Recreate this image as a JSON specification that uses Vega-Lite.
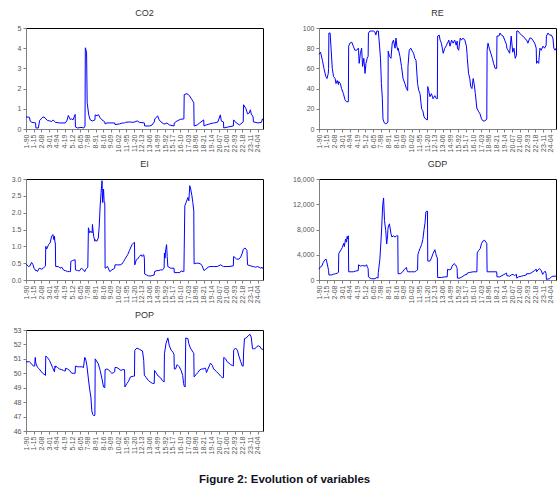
{
  "$schema": "https://vega.github.io/schema/vega-lite/v6.json",
  "padding": {"left": 10, "top": 8, "right": 5, "bottom": 8},
  "background": "white",
  "title": {"text": "Figure 2: Evolution of variables", "orient": "bottom", "anchor": "middle", "fontSize": 11.5, "fontWeight": "bold", "font": "Liberation Sans", "color": "#111122", "offset": 20},
  "config": {
    "view": {"stroke": "black", "strokeWidth": 1},
    "axis": {"labelFont": "Liberation Sans", "labelFontSize": 7, "labelColor": "#555555", "domainColor": "#808080", "tickColor": "#808080", "tickSize": 3, "grid": false, "title": null, "labelPadding": 2},
    "title": {"font": "Liberation Sans", "fontSize": 9, "fontWeight": "normal", "color": "#333333", "offset": 6},
    "line": {"color": "#0000ff", "strokeWidth": 1}
  },
  "datasets": {
    "co2": [{"t":0,"v":0.6},{"t":11,"v":0.58},{"t":14,"v":0.38},{"t":19,"v":0.33},{"t":31,"v":0.3},{"t":32,"v":0.05},{"t":40,"v":0.05},{"t":44,"v":0.42},{"t":49,"v":0.5},{"t":55,"v":0.6},{"t":62,"v":0.55},{"t":64,"v":0.5},{"t":70,"v":0.42},{"t":77,"v":0.4},{"t":83,"v":0.37},{"t":88,"v":0.45},{"t":92,"v":0.38},{"t":95,"v":0.33},{"t":108,"v":0.3},{"t":127,"v":0.3},{"t":132,"v":0.4},{"t":137,"v":0.67},{"t":143,"v":0.47},{"t":148,"v":0.5},{"t":152,"v":0.45},{"t":159,"v":0.72},{"t":160,"v":0.1},{"t":167,"v":0.05},{"t":178,"v":0.08},{"t":187,"v":0.05},{"t":191,"v":0.15},{"t":192,"v":4.02},{"t":196,"v":3.8},{"t":198,"v":1.3},{"t":203,"v":0.7},{"t":208,"v":0.45},{"t":215,"v":0.4},{"t":223,"v":0.45},{"t":224,"v":0.7},{"t":230,"v":0.65},{"t":234,"v":0.72},{"t":240,"v":0.55},{"t":246,"v":0.45},{"t":255,"v":0.35},{"t":256,"v":0.25},{"t":262,"v":0.3},{"t":275,"v":0.3},{"t":287,"v":0.3},{"t":288,"v":0.22},{"t":302,"v":0.25},{"t":313,"v":0.3},{"t":319,"v":0.3},{"t":322,"v":0.33},{"t":335,"v":0.35},{"t":346,"v":0.33},{"t":352,"v":0.35},{"t":360,"v":0.4},{"t":367,"v":0.33},{"t":383,"v":0.3},{"t":384,"v":0.15},{"t":400,"v":0.15},{"t":408,"v":0.2},{"t":415,"v":0.35},{"t":417,"v":0.5},{"t":426,"v":0.65},{"t":431,"v":0.45},{"t":437,"v":0.35},{"t":446,"v":0.25},{"t":450,"v":0.25},{"t":456,"v":0.3},{"t":464,"v":0.2},{"t":479,"v":0.15},{"t":480,"v":0.3},{"t":489,"v":0.4},{"t":500,"v":0.48},{"t":511,"v":0.5},{"t":512,"v":1.7},{"t":521,"v":1.75},{"t":529,"v":1.65},{"t":537,"v":1.45},{"t":543,"v":1.3},{"t":544,"v":0.15},{"t":554,"v":0.2},{"t":562,"v":0.3},{"t":575,"v":0.45},{"t":576,"v":0.15},{"t":583,"v":0.2},{"t":594,"v":0.25},{"t":607,"v":0.3},{"t":610,"v":0.3},{"t":621,"v":0.35},{"t":629,"v":0.7},{"t":632,"v":0.4},{"t":639,"v":0.35},{"t":640,"v":0.05},{"t":654,"v":0.1},{"t":671,"v":0.15},{"t":672,"v":0.45},{"t":681,"v":0.3},{"t":691,"v":0.2},{"t":703,"v":0.35},{"t":704,"v":1.2},{"t":712,"v":1.0},{"t":717,"v":0.75},{"t":723,"v":0.8},{"t":726,"v":0.95},{"t":729,"v":0.75},{"t":735,"v":0.6},{"t":736,"v":0.35},{"t":751,"v":0.3},{"t":762,"v":0.33},{"t":765,"v":0.5},{"t":767,"v":0.45}],
    "re": [{"t":0,"v":74},{"t":5,"v":76},{"t":11,"v":68},{"t":16,"v":60},{"t":22,"v":52},{"t":26,"v":50},{"t":30,"v":55},{"t":31,"v":60},{"t":32,"v":95},{"t":36,"v":95},{"t":39,"v":80},{"t":43,"v":60},{"t":47,"v":52},{"t":52,"v":50},{"t":55,"v":45},{"t":59,"v":48},{"t":63,"v":44},{"t":64,"v":47},{"t":69,"v":45},{"t":73,"v":40},{"t":79,"v":35},{"t":84,"v":29},{"t":89,"v":27},{"t":95,"v":27},{"t":96,"v":82},{"t":100,"v":85},{"t":106,"v":86},{"t":111,"v":82},{"t":116,"v":78},{"t":122,"v":78},{"t":127,"v":80},{"t":128,"v":78},{"t":130,"v":65},{"t":134,"v":75},{"t":138,"v":80},{"t":141,"v":62},{"t":145,"v":70},{"t":149,"v":55},{"t":152,"v":65},{"t":156,"v":70},{"t":159,"v":72},{"t":160,"v":95},{"t":165,"v":97},{"t":170,"v":97},{"t":176,"v":97},{"t":181,"v":96},{"t":184,"v":93},{"t":187,"v":97},{"t":191,"v":97},{"t":192,"v":97},{"t":196,"v":82},{"t":199,"v":70},{"t":202,"v":45},{"t":205,"v":30},{"t":207,"v":10},{"t":210,"v":7},{"t":215,"v":5},{"t":221,"v":6},{"t":223,"v":7},{"t":224,"v":77},{"t":228,"v":72},{"t":233,"v":70},{"t":237,"v":85},{"t":241,"v":88},{"t":246,"v":80},{"t":249,"v":90},{"t":252,"v":82},{"t":255,"v":78},{"t":256,"v":80},{"t":262,"v":72},{"t":267,"v":62},{"t":272,"v":50},{"t":278,"v":45},{"t":283,"v":40},{"t":287,"v":38},{"t":288,"v":62},{"t":292,"v":78},{"t":297,"v":80},{"t":302,"v":77},{"t":306,"v":75},{"t":310,"v":70},{"t":314,"v":68},{"t":319,"v":45},{"t":320,"v":43},{"t":323,"v":38},{"t":327,"v":35},{"t":332,"v":20},{"t":336,"v":18},{"t":340,"v":12},{"t":345,"v":10},{"t":351,"v":9},{"t":352,"v":42},{"t":355,"v":38},{"t":359,"v":32},{"t":364,"v":35},{"t":369,"v":30},{"t":375,"v":33},{"t":380,"v":30},{"t":383,"v":30},{"t":384,"v":92},{"t":389,"v":93},{"t":392,"v":88},{"t":396,"v":85},{"t":402,"v":75},{"t":407,"v":80},{"t":413,"v":83},{"t":415,"v":85},{"t":416,"v":85},{"t":420,"v":88},{"t":424,"v":82},{"t":429,"v":88},{"t":434,"v":85},{"t":439,"v":88},{"t":444,"v":83},{"t":447,"v":87},{"t":448,"v":80},{"t":452,"v":78},{"t":457,"v":90},{"t":461,"v":88},{"t":466,"v":90},{"t":472,"v":88},{"t":477,"v":82},{"t":479,"v":75},{"t":480,"v":70},{"t":484,"v":55},{"t":488,"v":50},{"t":491,"v":42},{"t":495,"v":40},{"t":499,"v":50},{"t":502,"v":45},{"t":506,"v":35},{"t":511,"v":20},{"t":512,"v":20},{"t":517,"v":17},{"t":521,"v":15},{"t":526,"v":10},{"t":531,"v":8},{"t":536,"v":8},{"t":541,"v":9},{"t":543,"v":10},{"t":544,"v":78},{"t":547,"v":85},{"t":551,"v":80},{"t":556,"v":75},{"t":561,"v":70},{"t":565,"v":65},{"t":570,"v":60},{"t":575,"v":60},{"t":576,"v":92},{"t":582,"v":92},{"t":586,"v":95},{"t":590,"v":93},{"t":596,"v":92},{"t":601,"v":88},{"t":605,"v":85},{"t":607,"v":83},{"t":608,"v":80},{"t":612,"v":78},{"t":617,"v":75},{"t":622,"v":92},{"t":627,"v":76},{"t":631,"v":80},{"t":635,"v":70},{"t":639,"v":73},{"t":640,"v":97},{"t":644,"v":97},{"t":649,"v":95},{"t":655,"v":93},{"t":660,"v":92},{"t":666,"v":90},{"t":671,"v":88},{"t":672,"v":88},{"t":676,"v":85},{"t":682,"v":90},{"t":687,"v":90},{"t":692,"v":88},{"t":698,"v":85},{"t":703,"v":80},{"t":704,"v":65},{"t":707,"v":67},{"t":711,"v":65},{"t":715,"v":80},{"t":719,"v":78},{"t":725,"v":82},{"t":730,"v":80},{"t":735,"v":83},{"t":736,"v":92},{"t":741,"v":95},{"t":746,"v":93},{"t":752,"v":93},{"t":757,"v":90},{"t":760,"v":80},{"t":764,"v":78},{"t":767,"v":80}],
    "ei": [{"t":0,"v":0.48},{"t":8,"v":0.4},{"t":13,"v":0.42},{"t":18,"v":0.52},{"t":22,"v":0.47},{"t":26,"v":0.35},{"t":31,"v":0.28},{"t":32,"v":0.3},{"t":37,"v":0.25},{"t":43,"v":0.35},{"t":51,"v":0.32},{"t":56,"v":0.35},{"t":61,"v":0.4},{"t":63,"v":0.42},{"t":64,"v":1.0},{"t":67,"v":0.92},{"t":73,"v":1.05},{"t":78,"v":1.1},{"t":83,"v":1.3},{"t":87,"v":1.35},{"t":90,"v":1.2},{"t":92,"v":1.3},{"t":94,"v":1.1},{"t":95,"v":1.1},{"t":96,"v":0.4},{"t":105,"v":0.4},{"t":110,"v":0.35},{"t":116,"v":0.38},{"t":121,"v":0.3},{"t":127,"v":0.27},{"t":128,"v":0.28},{"t":134,"v":0.25},{"t":141,"v":0.25},{"t":144,"v":0.25},{"t":145,"v":0.55},{"t":151,"v":0.58},{"t":159,"v":0.6},{"t":160,"v":0.3},{"t":167,"v":0.28},{"t":173,"v":0.27},{"t":179,"v":0.35},{"t":184,"v":0.32},{"t":188,"v":0.27},{"t":191,"v":0.25},{"t":192,"v":0.3},{"t":197,"v":0.35},{"t":200,"v":0.38},{"t":202,"v":1.55},{"t":206,"v":1.4},{"t":210,"v":1.45},{"t":214,"v":1.4},{"t":215,"v":1.65},{"t":219,"v":1.3},{"t":223,"v":1.15},{"t":224,"v":1.2},{"t":229,"v":1.15},{"t":234,"v":1.25},{"t":237,"v":1.6},{"t":240,"v":2.2},{"t":243,"v":2.6},{"t":246,"v":2.95},{"t":248,"v":2.3},{"t":251,"v":2.7},{"t":253,"v":2.3},{"t":255,"v":2.3},{"t":256,"v":0.35},{"t":264,"v":0.4},{"t":271,"v":0.25},{"t":278,"v":0.3},{"t":287,"v":0.35},{"t":288,"v":0.45},{"t":296,"v":0.45},{"t":305,"v":0.45},{"t":311,"v":0.48},{"t":316,"v":0.55},{"t":319,"v":0.6},{"t":320,"v":0.62},{"t":329,"v":0.75},{"t":335,"v":0.88},{"t":343,"v":1.05},{"t":348,"v":1.1},{"t":351,"v":1.12},{"t":352,"v":0.45},{"t":357,"v":0.6},{"t":361,"v":0.62},{"t":367,"v":0.7},{"t":372,"v":0.75},{"t":375,"v":0.7},{"t":381,"v":0.75},{"t":383,"v":0.65},{"t":384,"v":0.18},{"t":390,"v":0.15},{"t":397,"v":0.12},{"t":402,"v":0.12},{"t":408,"v":0.13},{"t":415,"v":0.15},{"t":416,"v":0.25},{"t":424,"v":0.28},{"t":430,"v":0.28},{"t":435,"v":0.3},{"t":441,"v":0.3},{"t":447,"v":0.35},{"t":448,"v":0.8},{"t":450,"v":0.65},{"t":452,"v":0.9},{"t":455,"v":1.05},{"t":457,"v":0.7},{"t":459,"v":0.4},{"t":468,"v":0.35},{"t":479,"v":0.35},{"t":480,"v":0.22},{"t":489,"v":0.22},{"t":498,"v":0.22},{"t":502,"v":0.27},{"t":509,"v":0.25},{"t":511,"v":0.25},{"t":512,"v":0.9},{"t":514,"v":2.2},{"t":518,"v":2.3},{"t":524,"v":2.45},{"t":527,"v":2.35},{"t":530,"v":2.8},{"t":533,"v":2.7},{"t":537,"v":2.5},{"t":540,"v":2.3},{"t":543,"v":2.05},{"t":544,"v":0.48},{"t":551,"v":0.5},{"t":557,"v":0.5},{"t":565,"v":0.48},{"t":570,"v":0.42},{"t":575,"v":0.3},{"t":576,"v":0.28},{"t":582,"v":0.32},{"t":589,"v":0.38},{"t":595,"v":0.4},{"t":607,"v":0.4},{"t":608,"v":0.4},{"t":619,"v":0.4},{"t":630,"v":0.45},{"t":635,"v":0.42},{"t":639,"v":0.4},{"t":640,"v":0.4},{"t":657,"v":0.4},{"t":671,"v":0.42},{"t":672,"v":0.7},{"t":682,"v":0.62},{"t":689,"v":0.62},{"t":695,"v":0.68},{"t":700,"v":0.8},{"t":703,"v":0.9},{"t":704,"v":0.92},{"t":709,"v":0.95},{"t":715,"v":0.88},{"t":717,"v":0.45},{"t":727,"v":0.42},{"t":735,"v":0.4},{"t":736,"v":0.4},{"t":743,"v":0.38},{"t":749,"v":0.4},{"t":757,"v":0.37},{"t":760,"v":0.35},{"t":764,"v":0.38},{"t":767,"v":0.33}],
    "gdp": [{"t":0,"v":1700},{"t":3,"v":2000},{"t":9,"v":2200},{"t":14,"v":2800},{"t":19,"v":3200},{"t":23,"v":3300},{"t":26,"v":2700},{"t":29,"v":2000},{"t":31,"v":1500},{"t":32,"v":800},{"t":41,"v":800},{"t":46,"v":900},{"t":54,"v":1000},{"t":60,"v":1100},{"t":63,"v":1200},{"t":64,"v":4200},{"t":69,"v":4600},{"t":75,"v":5100},{"t":80,"v":5800},{"t":82,"v":5300},{"t":86,"v":6500},{"t":89,"v":6000},{"t":91,"v":6900},{"t":93,"v":6500},{"t":95,"v":7000},{"t":96,"v":1300},{"t":104,"v":1300},{"t":111,"v":1300},{"t":118,"v":1400},{"t":127,"v":1500},{"t":128,"v":2400},{"t":135,"v":2200},{"t":141,"v":2300},{"t":149,"v":2200},{"t":154,"v":2400},{"t":157,"v":2000},{"t":159,"v":1800},{"t":160,"v":500},{"t":165,"v":300},{"t":170,"v":200},{"t":181,"v":200},{"t":187,"v":400},{"t":191,"v":300},{"t":192,"v":1200},{"t":197,"v":3300},{"t":200,"v":5700},{"t":203,"v":8400},{"t":206,"v":11800},{"t":209,"v":13000},{"t":212,"v":9400},{"t":216,"v":7800},{"t":219,"v":5700},{"t":222,"v":7000},{"t":223,"v":8000},{"t":224,"v":8400},{"t":228,"v":8900},{"t":233,"v":7300},{"t":236,"v":6800},{"t":240,"v":7000},{"t":246,"v":6800},{"t":251,"v":7000},{"t":255,"v":7000},{"t":256,"v":1000},{"t":263,"v":1000},{"t":269,"v":1200},{"t":275,"v":1600},{"t":283,"v":2000},{"t":285,"v":1500},{"t":287,"v":1300},{"t":288,"v":1300},{"t":300,"v":1300},{"t":310,"v":1300},{"t":316,"v":1500},{"t":319,"v":1600},{"t":320,"v":4000},{"t":323,"v":4500},{"t":327,"v":5000},{"t":332,"v":5600},{"t":336,"v":6400},{"t":340,"v":8000},{"t":343,"v":9000},{"t":346,"v":10800},{"t":349,"v":10900},{"t":351,"v":10900},{"t":352,"v":3000},{"t":359,"v":3000},{"t":364,"v":3500},{"t":369,"v":4200},{"t":375,"v":4800},{"t":378,"v":4200},{"t":380,"v":3800},{"t":383,"v":3500},{"t":384,"v":400},{"t":396,"v":400},{"t":407,"v":500},{"t":415,"v":500},{"t":416,"v":1700},{"t":421,"v":1600},{"t":427,"v":1700},{"t":431,"v":2200},{"t":437,"v":2600},{"t":442,"v":2400},{"t":446,"v":2000},{"t":447,"v":1800},{"t":448,"v":300},{"t":456,"v":300},{"t":463,"v":500},{"t":472,"v":800},{"t":479,"v":900},{"t":480,"v":1100},{"t":488,"v":1200},{"t":499,"v":1300},{"t":511,"v":1300},{"t":512,"v":4300},{"t":517,"v":4700},{"t":522,"v":5000},{"t":526,"v":5800},{"t":531,"v":6200},{"t":536,"v":6300},{"t":540,"v":6000},{"t":543,"v":5800},{"t":544,"v":1300},{"t":553,"v":1300},{"t":563,"v":1300},{"t":575,"v":1300},{"t":576,"v":500},{"t":585,"v":500},{"t":596,"v":800},{"t":603,"v":1000},{"t":607,"v":1100},{"t":608,"v":700},{"t":617,"v":600},{"t":622,"v":800},{"t":628,"v":900},{"t":633,"v":700},{"t":639,"v":900},{"t":640,"v":300},{"t":646,"v":500},{"t":655,"v":600},{"t":663,"v":700},{"t":671,"v":800},{"t":672,"v":1000},{"t":682,"v":1000},{"t":689,"v":1200},{"t":698,"v":1500},{"t":703,"v":1700},{"t":704,"v":1300},{"t":709,"v":1600},{"t":714,"v":1800},{"t":719,"v":1500},{"t":724,"v":900},{"t":728,"v":1200},{"t":732,"v":1400},{"t":735,"v":1000},{"t":736,"v":100},{"t":746,"v":200},{"t":752,"v":500},{"t":757,"v":600},{"t":767,"v":600}],
    "pop": [{"t":0,"v":50.8},{"t":11,"v":50.8},{"t":16,"v":50.7},{"t":24,"v":50.5},{"t":28,"v":50.5},{"t":30,"v":51.1},{"t":31,"v":50.8},{"t":32,"v":50.7},{"t":37,"v":50.42},{"t":43,"v":50.3},{"t":48,"v":50.15},{"t":54,"v":50.0},{"t":61,"v":49.9},{"t":63,"v":49.85},{"t":64,"v":51.2},{"t":69,"v":51.1},{"t":76,"v":50.9},{"t":81,"v":50.65},{"t":86,"v":50.4},{"t":92,"v":50.1},{"t":94,"v":50.5},{"t":95,"v":50.4},{"t":96,"v":50.5},{"t":102,"v":50.4},{"t":108,"v":50.3},{"t":116,"v":50.25},{"t":121,"v":50.2},{"t":127,"v":50.15},{"t":128,"v":50.35},{"t":134,"v":50.3},{"t":141,"v":50.2},{"t":148,"v":50.0},{"t":154,"v":50.0},{"t":159,"v":50.0},{"t":160,"v":50.5},{"t":167,"v":50.45},{"t":173,"v":50.45},{"t":181,"v":50.45},{"t":186,"v":50.4},{"t":190,"v":51.1},{"t":191,"v":51.0},{"t":192,"v":51.05},{"t":194,"v":50.9},{"t":197,"v":50.55},{"t":202,"v":49.6},{"t":206,"v":48.9},{"t":210,"v":48.35},{"t":213,"v":47.4},{"t":216,"v":47.15},{"t":220,"v":47.05},{"t":223,"v":47.1},{"t":224,"v":51.0},{"t":234,"v":50.65},{"t":240,"v":50.2},{"t":246,"v":49.6},{"t":251,"v":49.05},{"t":255,"v":49.0},{"t":256,"v":50.25},{"t":262,"v":50.3},{"t":267,"v":50.25},{"t":273,"v":50.1},{"t":278,"v":50.0},{"t":284,"v":50.05},{"t":287,"v":50.1},{"t":288,"v":50.4},{"t":294,"v":50.4},{"t":301,"v":50.3},{"t":307,"v":50.2},{"t":313,"v":50.25},{"t":319,"v":50.25},{"t":320,"v":49.05},{"t":327,"v":49.3},{"t":332,"v":49.45},{"t":338,"v":49.75},{"t":348,"v":49.8},{"t":351,"v":49.8},{"t":352,"v":51.6},{"t":359,"v":51.75},{"t":368,"v":51.65},{"t":377,"v":51.55},{"t":381,"v":50.9},{"t":383,"v":49.85},{"t":384,"v":49.85},{"t":389,"v":49.7},{"t":396,"v":49.5},{"t":402,"v":49.4},{"t":409,"v":49.3},{"t":415,"v":49.3},{"t":416,"v":50.2},{"t":422,"v":50.0},{"t":428,"v":49.8},{"t":435,"v":49.7},{"t":441,"v":49.5},{"t":447,"v":49.4},{"t":448,"v":51.35},{"t":453,"v":52.05},{"t":459,"v":52.45},{"t":464,"v":51.9},{"t":470,"v":51.6},{"t":476,"v":51.45},{"t":479,"v":51.3},{"t":480,"v":50.3},{"t":484,"v":50.3},{"t":489,"v":50.6},{"t":496,"v":50.45},{"t":502,"v":50.2},{"t":507,"v":49.85},{"t":510,"v":49.3},{"t":512,"v":49.1},{"t":515,"v":49.05},{"t":517,"v":52.45},{"t":524,"v":52.4},{"t":527,"v":52.05},{"t":532,"v":51.75},{"t":538,"v":51.55},{"t":541,"v":51.45},{"t":543,"v":51.4},{"t":544,"v":49.75},{"t":550,"v":49.9},{"t":556,"v":50.05},{"t":563,"v":50.25},{"t":569,"v":50.3},{"t":575,"v":50.3},{"t":576,"v":50.35},{"t":581,"v":50.35},{"t":584,"v":50.05},{"t":589,"v":50.3},{"t":597,"v":50.7},{"t":603,"v":50.55},{"t":607,"v":50.3},{"t":608,"v":50.3},{"t":617,"v":50.1},{"t":624,"v":49.95},{"t":630,"v":49.8},{"t":635,"v":49.7},{"t":639,"v":49.7},{"t":640,"v":51.1},{"t":646,"v":51.0},{"t":651,"v":50.8},{"t":657,"v":50.7},{"t":662,"v":50.6},{"t":668,"v":50.55},{"t":671,"v":50.5},{"t":672,"v":51.6},{"t":678,"v":51.75},{"t":684,"v":51.6},{"t":689,"v":51.2},{"t":695,"v":50.8},{"t":700,"v":50.5},{"t":703,"v":50.5},{"t":704,"v":51.4},{"t":707,"v":52.4},{"t":713,"v":52.45},{"t":719,"v":52.6},{"t":725,"v":52.7},{"t":729,"v":52.5},{"t":733,"v":51.7},{"t":735,"v":51.7},{"t":736,"v":51.7},{"t":741,"v":51.7},{"t":747,"v":51.85},{"t":752,"v":51.9},{"t":757,"v":51.85},{"t":761,"v":51.7},{"t":767,"v":51.65}]
  },
  "columns": 2,
  "bounds": "flush",
  "spacing": {"row": 50, "column": 56},
  "concat": [
    {
      "title": "CO2",
      "width": 237, "height": 101,
      "data": {"name": "co2"},
      "mark": "line",
      "encoding": {
        "x": {"field": "t", "type": "quantitative", "scale": {"domain": [0, 767], "nice": false, "zero": false},
          "axis": {"values": [0,25,50,75,100,125,150,175,200,225,250,275,300,325,350,375,400,425,450,475,500,525,550,575,600,625,650,675,700,725,750], "labelAngle": -90, "labelExpr": "(floor(datum.value/32)+1) + '-' + slice('0' + ((1990 + datum.value % 32) % 100), -2)"}},
        "y": {"field": "v", "type": "quantitative", "scale": {"domain": [0, 5], "nice": false}, "axis": {"values": [0,1,2,3,4,5]}}
      }
    },
    {
      "title": "RE",
      "width": 237, "height": 101,
      "data": {"name": "re"},
      "mark": "line",
      "encoding": {
        "x": {"field": "t", "type": "quantitative", "scale": {"domain": [0, 767], "nice": false, "zero": false},
          "axis": {"values": [0,25,50,75,100,125,150,175,200,225,250,275,300,325,350,375,400,425,450,475,500,525,550,575,600,625,650,675,700,725,750], "labelAngle": -90, "labelExpr": "(floor(datum.value/32)+1) + '-' + slice('0' + ((1990 + datum.value % 32) % 100), -2)"}},
        "y": {"field": "v", "type": "quantitative", "scale": {"domain": [0, 100], "nice": false}, "axis": {"values": [0,20,40,60,80,100]}}
      }
    },
    {
      "title": "EI",
      "width": 237, "height": 101,
      "data": {"name": "ei"},
      "mark": "line",
      "encoding": {
        "x": {"field": "t", "type": "quantitative", "scale": {"domain": [0, 767], "nice": false, "zero": false},
          "axis": {"values": [0,25,50,75,100,125,150,175,200,225,250,275,300,325,350,375,400,425,450,475,500,525,550,575,600,625,650,675,700,725,750], "labelAngle": -90, "labelExpr": "(floor(datum.value/32)+1) + '-' + slice('0' + ((1990 + datum.value % 32) % 100), -2)"}},
        "y": {"field": "v", "type": "quantitative", "scale": {"domain": [0, 3], "nice": false}, "axis": {"values": [0,0.5,1,1.5,2,2.5,3], "format": ".1f"}}
      }
    },
    {
      "title": "GDP",
      "width": 237, "height": 101,
      "data": {"name": "gdp"},
      "mark": "line",
      "encoding": {
        "x": {"field": "t", "type": "quantitative", "scale": {"domain": [0, 767], "nice": false, "zero": false},
          "axis": {"values": [0,25,50,75,100,125,150,175,200,225,250,275,300,325,350,375,400,425,450,475,500,525,550,575,600,625,650,675,700,725,750], "labelAngle": -90, "labelExpr": "(floor(datum.value/32)+1) + '-' + slice('0' + ((1990 + datum.value % 32) % 100), -2)"}},
        "y": {"field": "v", "type": "quantitative", "scale": {"domain": [0, 16000], "nice": false}, "axis": {"values": [0,4000,8000,12000,16000], "format": ",.0f"}}
      }
    },
    {
      "title": "POP",
      "width": 237, "height": 101,
      "data": {"name": "pop"},
      "mark": "line",
      "encoding": {
        "x": {"field": "t", "type": "quantitative", "scale": {"domain": [0, 767], "nice": false, "zero": false},
          "axis": {"values": [0,25,50,75,100,125,150,175,200,225,250,275,300,325,350,375,400,425,450,475,500,525,550,575,600,625,650,675,700,725,750], "labelAngle": -90, "labelExpr": "(floor(datum.value/32)+1) + '-' + slice('0' + ((1990 + datum.value % 32) % 100), -2)"}},
        "y": {"field": "v", "type": "quantitative", "scale": {"domain": [46, 53], "nice": false}, "axis": {"values": [46,47,48,49,50,51,52,53]}}
      }
    }
  ]
}
